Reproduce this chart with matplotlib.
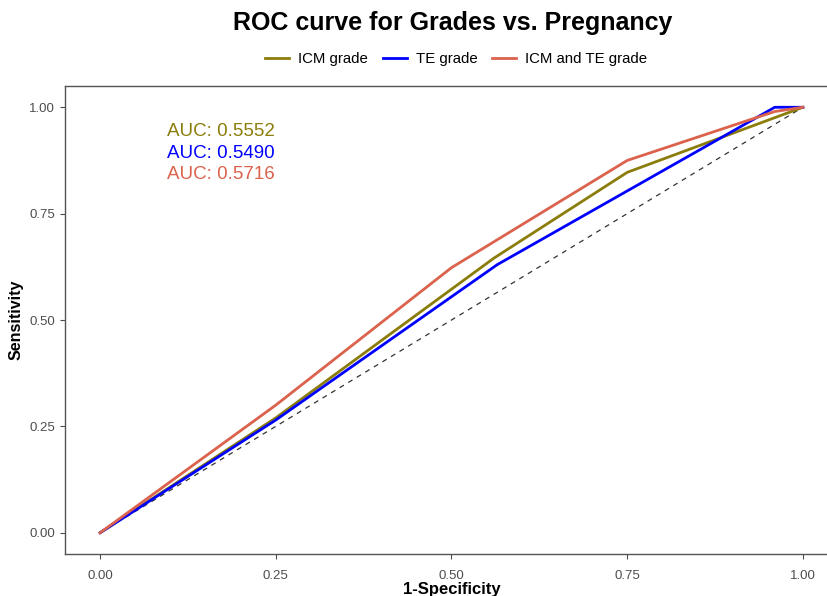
import matplotlib
matplotlib.use("Agg")
import matplotlib.pyplot as plt
from matplotlib.lines import Line2D

plt.rcParams['font.family'] = ['Liberation Sans', 'DejaVu Sans']

# Data
icm_fpr = [0.0, 0.25, 0.56, 0.75, 1.0]
icm_tpr = [0.0, 0.27, 0.645, 0.847, 1.0]
te_fpr = [0.0, 0.25, 0.565, 0.96, 1.0]
te_tpr = [0.0, 0.265, 0.63, 1.0, 1.0]
both_fpr = [0.0, 0.25, 0.5, 0.75, 0.96, 1.0]
both_tpr = [0.0, 0.30, 0.623, 0.875, 0.99, 1.0]
series_names = ["ICM grade", "TE grade", "ICM and TE grade"]
auc_values = ["0.5552", "0.5490", "0.5716"]
ticks = [0.0, 0.25, 0.5, 0.75, 1.0]
tick_labels = ["0.00", "0.25", "0.50", "0.75", "1.00"]

colors = ["#8B7D0B", "#0000FF", "#DB624C"]

fig = plt.figure(figsize=(8.27, 5.96), dpi=100)
ax = fig.add_axes([65/827, 42/596, (838-65)/827, (554-86)/596])

ax.plot([0, 1], [0, 1], linestyle=(0, (4, 4)), color="#333333", lw=0.9)
for fx, ty, c in zip([icm_fpr, te_fpr, both_fpr], [icm_tpr, te_tpr, both_tpr], colors):
    ax.plot(fx, ty, color=c, lw=2.0, solid_joinstyle='round')

ax.set_xlim(-0.05, 1.05)
ax.set_ylim(-0.05, 1.05)
ax.set_xticks(ticks)
ax.set_xticklabels(tick_labels)
ax.set_yticks(ticks)
ax.set_yticklabels(tick_labels)
ax.tick_params(colors="#4D4D4D", labelsize=9.5, length=3.5, width=0.8)
ax.tick_params(axis="x", pad=8)
for s in ax.spines.values():
    s.set_color("#555555")
    s.set_linewidth(1.0)

ax.set_xlabel("1-Specificity", fontsize=12, fontweight="bold", labelpad=0)
ax.set_ylabel("Sensitivity", fontsize=11.5, fontweight="bold", labelpad=4)

ys = [0.944, 0.892, 0.843]
for name, auc, c, y in zip(series_names, auc_values, colors, ys):
    ax.text(0.095, y, f"AUC: {auc}", color=c, fontsize=13.5, va="center", ha="left")

fig.text(453/827, 1 - 23/596, "ROC curve for Grades vs. Pregnancy", fontsize=18,
         fontweight="bold", ha="center", va="center")

handles = [Line2D([0], [0], color=c, lw=2) for c in colors]
fig.legend(handles, series_names, loc="center", bbox_to_anchor=(456/827, 1 - 59/596),
           ncol=3, frameon=False, fontsize=10.8, handlelength=1.6, columnspacing=1.0,
           handletextpad=0.6)

fig.savefig("out.png", dpi=100)
